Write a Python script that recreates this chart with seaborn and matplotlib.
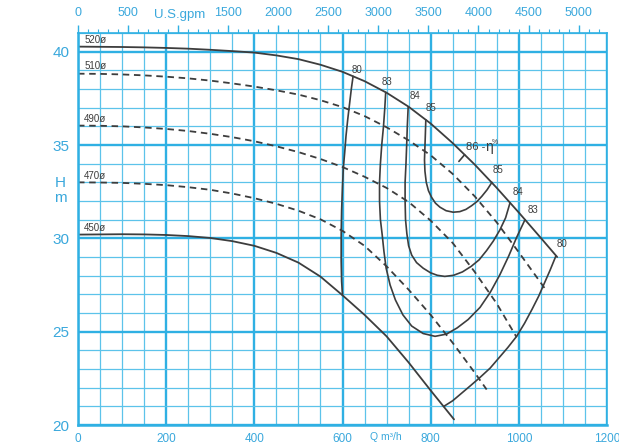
import numpy as np
import pandas as pd
import matplotlib
matplotlib.use("Agg")
import matplotlib.pyplot as plt
from matplotlib.ticker import MultipleLocator, FixedLocator
import seaborn as sns

# ---------------- data ----------------
# Q-H curves for impeller diameters (m3/h, m)
q520 = [0, 50, 100, 150, 200, 250, 300, 350, 400, 450, 500, 550, 600, 650, 700, 750, 800, 850, 900, 950, 1000, 1050, 1087]
h520 = [40.27, 40.26, 40.25, 40.23, 40.2, 40.16, 40.1, 40.03, 39.95, 39.8, 39.6, 39.3, 38.92, 38.42, 37.8, 37.05, 36.15, 35.1, 33.95, 32.7, 31.38, 30.02, 29.0]

q510 = [0, 50, 100, 150, 200, 250, 300, 350, 400, 450, 500, 550, 600, 650, 700, 750, 800, 850, 900, 950, 1000, 1064]
h510 = [38.82, 38.81, 38.78, 38.73, 38.66, 38.57, 38.45, 38.3, 38.13, 37.93, 37.7, 37.4, 37.03, 36.55, 35.95, 35.25, 34.45, 33.45, 32.25, 30.85, 29.25, 27.15]

q490 = [0, 50, 100, 150, 200, 250, 300, 350, 400, 450, 500, 550, 600, 650, 700, 750, 800, 850, 900, 950, 995]
h490 = [36.04, 36.03, 36.0, 35.94, 35.86, 35.75, 35.6, 35.42, 35.2, 34.93, 34.62, 34.25, 33.82, 33.3, 32.7, 31.95, 30.95, 29.75, 28.2, 26.5, 24.7]

q470 = [0, 50, 100, 150, 200, 250, 300, 350, 400, 450, 500, 550, 600, 650, 700, 750, 800, 850, 900, 927]
h470 = [33.0, 32.99, 32.97, 32.92, 32.85, 32.74, 32.6, 32.4, 32.15, 31.85, 31.48, 31.02, 30.4, 29.6, 28.5, 27.25, 25.9, 24.4, 22.8, 21.9]

q450 = [0, 50, 100, 150, 200, 250, 300, 350, 400, 450, 500, 550, 600, 650, 700, 750, 800, 853]
h450 = [30.2, 30.21, 30.22, 30.21, 30.18, 30.12, 30.02, 29.85, 29.6, 29.22, 28.7, 27.95, 26.95, 25.9, 24.75, 23.35, 21.85, 20.3]

# iso-efficiency curves (%)
q_e80a = [624, 620, 616, 612, 608, 605, 602, 600, 598, 597, 597, 598, 600]
h_e80a = [38.68, 38.0, 37.2, 36.4, 35.5, 34.6, 33.8, 32.8, 31.5, 30.2, 28.8, 27.7, 26.95]
q_e80b = [830, 850, 870, 890, 912, 935, 955, 975, 995, 1013, 1030, 1045, 1058, 1071, 1084]
h_e80b = [21.0, 21.3, 21.7, 22.1, 22.55, 23.05, 23.6, 24.15, 24.75, 25.45, 26.2, 26.9, 27.6, 28.3, 29.05]
q_e83 = [698, 696, 693, 689, 686, 684, 684, 686, 690, 694, 699, 708, 720, 737, 757, 783, 810, 836, 860, 885, 912, 935, 957, 977, 995, 1014]
h_e83 = [37.82, 37.0, 36.0, 35.0, 34.0, 33.0, 32.0, 31.0, 30.2, 29.3, 28.4, 27.5, 26.7, 25.9, 25.3, 24.9, 24.75, 24.87, 25.2, 25.65, 26.3, 27.1, 28.05, 29.05, 30.05, 31.0]
q_e84 = [749, 747, 746, 744, 742, 742, 743, 746, 750, 757, 768, 783, 800, 815, 832, 852, 872, 892, 910, 927, 942, 957, 970, 980]
h_e84 = [37.05, 36.0, 35.27, 34.0, 33.0, 32.0, 31.0, 30.25, 29.6, 29.1, 28.7, 28.4, 28.15, 28.02, 27.96, 28.02, 28.2, 28.5, 28.85, 29.35, 29.85, 30.45, 31.1, 31.9]
q_e85 = [789, 788, 787, 786, 787, 790, 795, 802, 811, 821, 835, 851, 866, 880, 893, 905, 916, 928, 939]
h_e85 = [36.35, 35.6, 34.9, 34.2, 33.6, 33.0, 32.55, 32.2, 31.88, 31.67, 31.48, 31.4, 31.43, 31.55, 31.75, 31.97, 32.25, 32.6, 33.0]
q_e86 = [877, 864]
h_e86 = [34.48, 34.12]

diam_labels = ["520ø", "510ø", "490ø", "470ø", "450ø"]
diam_label_h = [40.35, 38.95, 36.12, 33.08, 30.28]

eff_labels = ["80", "83", "84", "85", "85", "84", "83", "80"]
eff_label_q = [632, 700, 764, 801, 953, 997, 1033, 1097]
eff_label_h = [39.0, 38.4, 37.6, 37.0, 33.65, 32.5, 31.5, 29.7]

x_ticks = [0, 200, 400, 600, 800, 1000, 1200]
y_ticks = [20, 25, 30, 35, 40]
gpm_ticks = [0, 500, 1000, 1500, 2000, 2500, 3000, 3500, 4000, 4500, 5000]
gpm_labels = ["0", "500", "", "1500", "2000", "2500", "3000", "3500", "4000", "4500", "5000"]

# ---------------- style ----------------
sns.set_style("white")
plt.rcParams["font.family"] = ["Liberation Sans", "DejaVu Sans"]

BLUE = "#3aa8dc"
GRID_MAJ = "#2fb0e3"
GRID_MIN = "#5cc3ea"
INK = "#3d3d3d"

fig = plt.figure(figsize=(6.19, 4.47), dpi=100)
ax = fig.add_axes([78 / 619, 22 / 447, 529 / 619, 392 / 447])

ax.set_xlim(0, 1200)
ax.set_ylim(20, 41)

# grid
ax.xaxis.set_major_locator(FixedLocator(x_ticks))
ax.xaxis.set_minor_locator(MultipleLocator(50))
ax.yaxis.set_major_locator(FixedLocator(y_ticks))
ax.yaxis.set_minor_locator(MultipleLocator(1))
ax.grid(which="major", color=GRID_MAJ, linewidth=1.7)
ax.grid(which="minor", color=GRID_MIN, linewidth=0.9)
ax.set_axisbelow(True)
for s in ax.spines.values():
    s.set_color(GRID_MAJ)
    s.set_linewidth(1.2)
ax.spines["bottom"].set_linewidth(1.8)
ax.spines["left"].set_linewidth(1.8)

ax.tick_params(which="both", length=0)
ax.tick_params(axis="x", which="major", pad=6, labelsize=8.5, labelcolor=BLUE)
ax.tick_params(axis="y", which="major", pad=6, labelsize=11, labelcolor=BLUE)
ax.set_xticklabels([str(t) for t in x_ticks])
ax.set_yticklabels([str(t) for t in y_ticks])

# top gpm axis
GPM = 4.4029
sec = ax.secondary_xaxis("top", functions=(lambda q: q * GPM, lambda g: g / GPM))
sec.xaxis.set_major_locator(FixedLocator(gpm_ticks))
sec.xaxis.set_minor_locator(MultipleLocator(100))
sec.set_xticklabels(gpm_labels)
sec.tick_params(which="major", direction="out", length=6, width=1.0, color=GRID_MAJ,
                labelsize=9, labelcolor=BLUE, pad=4)
sec.tick_params(which="minor", direction="out", length=3, width=0.8, color=GRID_MAJ)
sec.spines["top"].set_visible(False)

# curves
def draw(q, h, dashed=False, lw=1.3):
    df = pd.DataFrame({"Q": q, "H": h})
    sns.lineplot(data=df, x="Q", y="H", sort=False, estimator=None, ax=ax,
                 color=INK, linewidth=lw,
                 linestyle=(0, (3.6, 2.6)) if dashed else "-")

draw(q520, h520)
draw(q510, h510, dashed=True)
draw(q490, h490, dashed=True)
draw(q470, h470, dashed=True)
draw(q450, h450)
for q, h in [(q_e80a, h_e80a), (q_e80b, h_e80b), (q_e83, h_e83),
             (q_e84, h_e84), (q_e85, h_e85), (q_e86, h_e86)]:
    draw(q, h, lw=1.2)
ax.set_xlabel("")
ax.set_ylabel("")

# texts
for lab, hh in zip(diam_labels, diam_label_h):
    ax.text(14, hh, lab, fontsize=7, color=INK, ha="left", va="bottom")
for lab, qq, hh in zip(eff_labels, eff_label_q, eff_label_h):
    ax.text(qq, hh, lab, fontsize=7, color=INK, ha="center", va="center")
ax.text(903, 34.9, "86 -", fontsize=8, color=INK, ha="center", va="center")
ax.text(932, 34.9, "η", fontsize=10, color=INK, ha="center", va="center")
ax.text(945, 35.15, "%", fontsize=5, color=INK, ha="center", va="center")

# axis titles
fig.text(60 / 619, 1 - 183 / 447, "H", fontsize=11, color=BLUE, ha="center", va="center")
fig.text(60 / 619, 1 - 198 / 447, "m", fontsize=11, color=BLUE, ha="center", va="center")
fig.text(386 / 619, 1 - 437 / 447, "Q m³/h", fontsize=7.5, color=BLUE, ha="center", va="center")
fig.text(180 / 619, 1 - 15 / 447, "U.S.gpm", fontsize=9.5, color=BLUE, ha="center", va="center")

fig.savefig("out.png", dpi=100)
